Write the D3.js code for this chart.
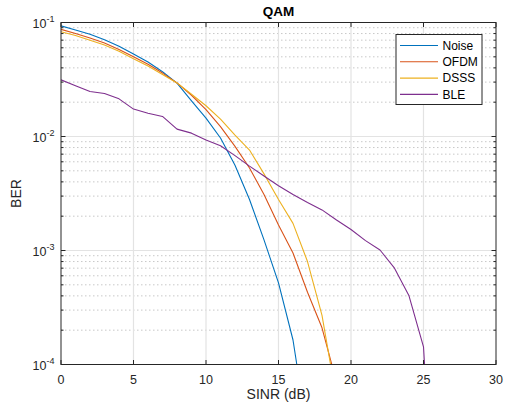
<!DOCTYPE html>
<html><head><meta charset="utf-8">
<script src="https://cdn.jsdelivr.net/npm/d3@7"></script>
<style>body{margin:0;background:#fff;} svg{display:block;font-family:"Liberation Sans",Arial,Helvetica,sans-serif;}</style>
</head><body>
<script>
const title = "QAM";
const xLabel = "SINR (dB)";
const yLabel = "BER";
const xTicks = [0, 5, 10, 15, 20, 25, 30];
const yTickExps = [-1, -2, -3, -4];
const seriesNames = ["Noise", "OFDM", "DSSS", "BLE"];
const seriesColors = ["#0072BD", "#D95319", "#EDB120", "#7E2F8E"];
const noiseX = [0,1,2,3,4,5,6,7,8,9,10,11,12,13,14,15,16,17];
const noiseY = [0.0935,0.086,0.079,0.0705,0.062,0.053,0.045,0.037,0.0294,0.0205,0.0145,0.0097,0.0056,0.0028,0.00124,0.00052,0.000164,0.000025];
const ofdmX = [0,1,2,3,4,5,6,7,8,9,10,11,12,13,14,15,16,17,18,19];
const ofdmY = [0.087,0.080,0.073,0.066,0.058,0.050,0.043,0.036,0.0295,0.023,0.0172,0.0122,0.0082,0.0053,0.0031,0.00167,0.00095,0.00043,0.00021,0.00007];
const dsssX = [0,1,2,3,4,5,6,7,8,9,10,11,12,13,14,15,16,17,18,19];
const dsssY = [0.083,0.077,0.070,0.0635,0.056,0.048,0.0415,0.035,0.0295,0.0235,0.0186,0.0142,0.0103,0.0076,0.0047,0.0028,0.00173,0.0008,0.00027,0.00005];
const bleX = [0,1,2,3,4,5,6,7,8,9,10,11,12,13,14,15,16,17,18,19,20,21,22,23,24,25,26];
const bleY = [0.0314,0.0279,0.0248,0.0238,0.0214,0.0174,0.016,0.015,0.0116,0.0107,0.0093,0.0083,0.0068,0.0055,0.0045,0.0037,0.0031,0.00264,0.00227,0.00185,0.00153,0.00122,0.00101,0.0007,0.0004,0.000143,0.000001];

const W = 507, H = 409;
const m = {left: 61, right: 11, top: 22.5, bottom: 44.5};
const svg = d3.select("body").append("svg").attr("width", W).attr("height", H);
const x = d3.scaleLinear().domain([0, 30]).range([m.left, W - m.right]);
const y = d3.scaleLog().domain([1e-4, 1e-1]).range([H - m.bottom, m.top]);
const x0 = m.left, x1 = W - m.right, y0 = H - m.bottom, y1 = m.top;

// minor values
const minorY = [];
for (let e = -4; e < -1; e++) for (let k = 2; k <= 9; k++) minorY.push(k * Math.pow(10, e));

const g = svg.append("g");
// minor grid
g.selectAll(".mg").data(minorY).enter().append("line")
  .attr("x1", x0).attr("x2", x1).attr("y1", d => y(d)).attr("y2", d => y(d))
  .attr("stroke", "#c8c8c8").attr("stroke-width", 1).attr("stroke-dasharray", "1.5,2.5");
// major grid
g.selectAll(".gx").data(xTicks.slice(1, -1)).enter().append("line")
  .attr("x1", d => x(d)).attr("x2", d => x(d)).attr("y1", y0).attr("y2", y1)
  .attr("stroke", "#e3e3e3").attr("stroke-width", 1.2);
g.selectAll(".gy").data(yTickExps.slice(1, -1)).enter().append("line")
  .attr("x1", x0).attr("x2", x1).attr("y1", d => y(Math.pow(10, d))).attr("y2", d => y(Math.pow(10, d)))
  .attr("stroke", "#e3e3e3").attr("stroke-width", 1.2);

// clip
svg.append("clipPath").attr("id", "clip").append("rect")
  .attr("x", x0).attr("y", y1).attr("width", x1 - x0).attr("height", y0 - y1);

const allX = [noiseX, ofdmX, dsssX, bleX];
const allY = [noiseY, ofdmY, dsssY, bleY];
const line = d3.line().x(d => x(d[0])).y(d => y(d[1]));
const lg = svg.append("g").attr("clip-path", "url(#clip)");
seriesNames.forEach((n, i) => {
  const pts = allX[i].map((v, j) => [v, allY[i][j]]);
  lg.append("path").datum(pts).attr("d", line).attr("fill", "none")
    .attr("stroke", seriesColors[i]).attr("stroke-width", 1.1).attr("stroke-linejoin", "round");
});

// axes box
const ax = svg.append("g").attr("stroke", "#262626").attr("fill", "none");
ax.append("rect").attr("x", x0).attr("y", y1).attr("width", x1 - x0).attr("height", y0 - y1).attr("stroke-width", 1);
// x ticks
xTicks.forEach(t => {
  ax.append("line").attr("x1", x(t)).attr("x2", x(t)).attr("y1", y0).attr("y2", y0 - 4.5);
  ax.append("line").attr("x1", x(t)).attr("x2", x(t)).attr("y1", y1).attr("y2", y1 + 4.5);
});
yTickExps.forEach(e => {
  const yy = y(Math.pow(10, e));
  ax.append("line").attr("x1", x0).attr("x2", x0 + 4.5).attr("y1", yy).attr("y2", yy);
  ax.append("line").attr("x1", x1).attr("x2", x1 - 4.5).attr("y1", yy).attr("y2", yy);
});
minorY.forEach(v => {
  const yy = y(v);
  ax.append("line").attr("x1", x0).attr("x2", x0 + 2.5).attr("y1", yy).attr("y2", yy);
  ax.append("line").attr("x1", x1).attr("x2", x1 - 2.5).attr("y1", yy).attr("y2", yy);
});

// tick labels
const tc = "#262626";
svg.selectAll(".xt").data(xTicks).enter().append("text")
  .attr("x", d => x(d)).attr("y", y0 + 19).attr("text-anchor", "middle")
  .attr("font-size", 12.5).attr("fill", tc).text(d => d);
yTickExps.forEach(e => {
  const t = svg.append("text").attr("x", 54.5).attr("y", y(Math.pow(10, e)) + 5.5)
    .attr("text-anchor", "end").attr("font-size", 12.5).attr("fill", tc);
  t.append("tspan").text("10");
  t.append("tspan").attr("dy", -6).attr("font-size", 9).text(String(e).replace("-", "-"));
});

// labels
svg.append("text").attr("x", (x0 + x1) / 2).attr("y", 399).attr("text-anchor", "middle")
  .attr("font-size", 14).attr("fill", tc).text(xLabel);
svg.append("text").attr("transform", `translate(21,${(y0 + y1) / 2}) rotate(-90)`).attr("text-anchor", "middle")
  .attr("font-size", 14).attr("fill", tc).text(yLabel);
svg.append("text").attr("x", (x0 + x1) / 2).attr("y", 16).attr("text-anchor", "middle")
  .attr("font-size", 13.5).attr("font-weight", "bold").attr("fill", "#000").text(title);

// legend
const L = svg.append("g");
L.append("rect").attr("x", 396).attr("y", 34.5).attr("width", 86).attr("height", 70)
  .attr("fill", "#fff").attr("stroke", "#262626").attr("stroke-width", 1);
seriesNames.forEach((n, i) => {
  const yy = 45.5 + i * 16.3;
  L.append("line").attr("x1", 400).attr("x2", 438).attr("y1", yy).attr("y2", yy)
    .attr("stroke", seriesColors[i]).attr("stroke-width", 1.1);
  L.append("text").attr("x", 442.5).attr("y", yy + 4.3).attr("font-size", 12).attr("fill", "#000").text(n);
});
</script>
</body></html>
